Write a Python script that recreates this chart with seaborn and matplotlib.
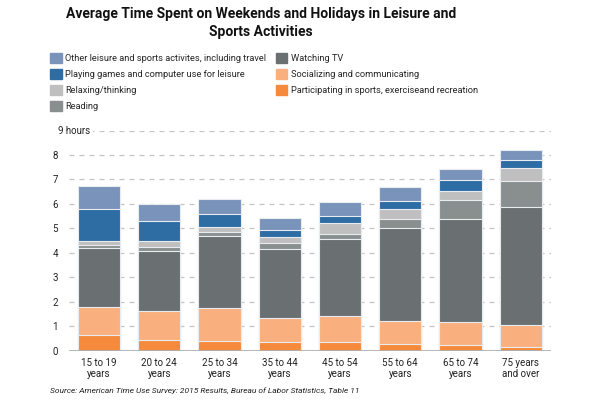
import matplotlib
matplotlib.use("Agg")
import matplotlib.pyplot as plt
import matplotlib.patches as mpatches
import seaborn as sns
import pandas as pd
import numpy as np

# age groups and hours per activity
ages = ["15 to 19\nyears", "20 to 24\nyears", "25 to 34\nyears", "35 to 44\nyears",
        "45 to 54\nyears", "55 to 64\nyears", "65 to 74\nyears", "75 years\nand over"]
sports = [0.64, 0.45, 0.38, 0.34, 0.34, 0.27, 0.23, 0.15]
social = [1.14, 1.17, 1.36, 0.99, 1.07, 0.93, 0.94, 0.91]
tv = [2.41, 2.45, 2.95, 2.83, 3.16, 3.82, 4.20, 4.80]
reading = [0.15, 0.15, 0.15, 0.23, 0.22, 0.38, 0.79, 1.09]
relaxing = [0.14, 0.26, 0.21, 0.25, 0.42, 0.40, 0.38, 0.52]
games = [1.32, 0.83, 0.54, 0.30, 0.30, 0.31, 0.43, 0.33]
other = [0.92, 0.70, 0.60, 0.49, 0.56, 0.58, 0.46, 0.42]

labels = ["Participating in sports, exerciseand recreation", "Socializing and communicating",
          "Watching TV", "Reading", "Relaxing/thinking",
          "Playing games and computer use for leisure",
          "Other leisure and sports activites, including travel"]
colors = ["#f58a3d", "#f9b07e", "#6a7072", "#898e8f", "#c0bfbf", "#2e6ca4", "#7a93bb"]
series = [sports, social, tv, reading, relaxing, games, other]

sns.set_style("white")
plt.rcParams["font.family"] = ["Roboto", "DejaVu Sans"]

df = pd.DataFrame({"age": ages})
cum = np.zeros(len(ages))
for lab, vals in zip(labels, series):
    cum = cum + np.array(vals)
    df[lab] = cum

fig = plt.figure(figsize=(6, 4.01), dpi=100)
ax = fig.add_axes([0.115, 0.1254, 0.803, 0.549])

# draw cumulative totals from the top layer down so each layer shows as a segment
for lab, col in reversed(list(zip(labels, colors))):
    sns.barplot(data=df, x="age", y=lab, color=col, width=0.7, saturation=1,
                edgecolor="#e8ecf1", linewidth=0.8, ax=ax, zorder=2)

ax.set_ylim(0, 9)
ax.set_xlim(-0.5, 7.5)
ax.set_yticks(range(0, 10))
ax.set_yticklabels([str(i) for i in range(9)] + [""])
ax.set_xlabel("")
ax.set_ylabel("")
for y in range(1, 10):
    ax.axhline(y, color="#c4c4c4", lw=0.9, ls=(0, (4, 4)), zorder=0)
ax.axhline(0, color="#b0b0b0", lw=2, zorder=4)
ax.text(-0.023, 9, "9 hours", transform=ax.get_yaxis_transform(), ha="left", va="center",
        fontsize=7, color="#222222", zorder=5,
        bbox=dict(facecolor="white", edgecolor="none", pad=2))
ax.tick_params(axis="both", length=0, labelsize=7, colors="#222222")
ax.tick_params(axis="y", pad=8)
ax.tick_params(axis="x", pad=5)
sns.despine(ax=ax, left=True, bottom=True)

order = [6, 5, 4, 3, 2, 1, 0]
handles = [mpatches.Patch(color=colors[i], label=labels[i]) for i in order]
fig.legend(handles=handles, ncol=2, loc="upper left", bbox_to_anchor=(0.077, 0.876),
           frameon=False, fontsize=6.7, handlelength=1.25, handleheight=1.25,
           handletextpad=0.4, columnspacing=1.0, labelspacing=0.62, borderaxespad=0)

fig.text(261 / 600, 0.982, "Average Time Spent on Weekends and Holidays in Leisure and\nSports Activities",
         ha="center", va="top", fontsize=10, fontweight="bold", color="#111111", linespacing=1.3)
fig.text(50 / 600, 0.027, "Source: American Time Use Survey: 2015 Results, Bureau of Labor Statistics, Table 11",
         ha="left", va="center", fontsize=6, style="italic", color="#222222")

fig.savefig("out.png", dpi=100)
